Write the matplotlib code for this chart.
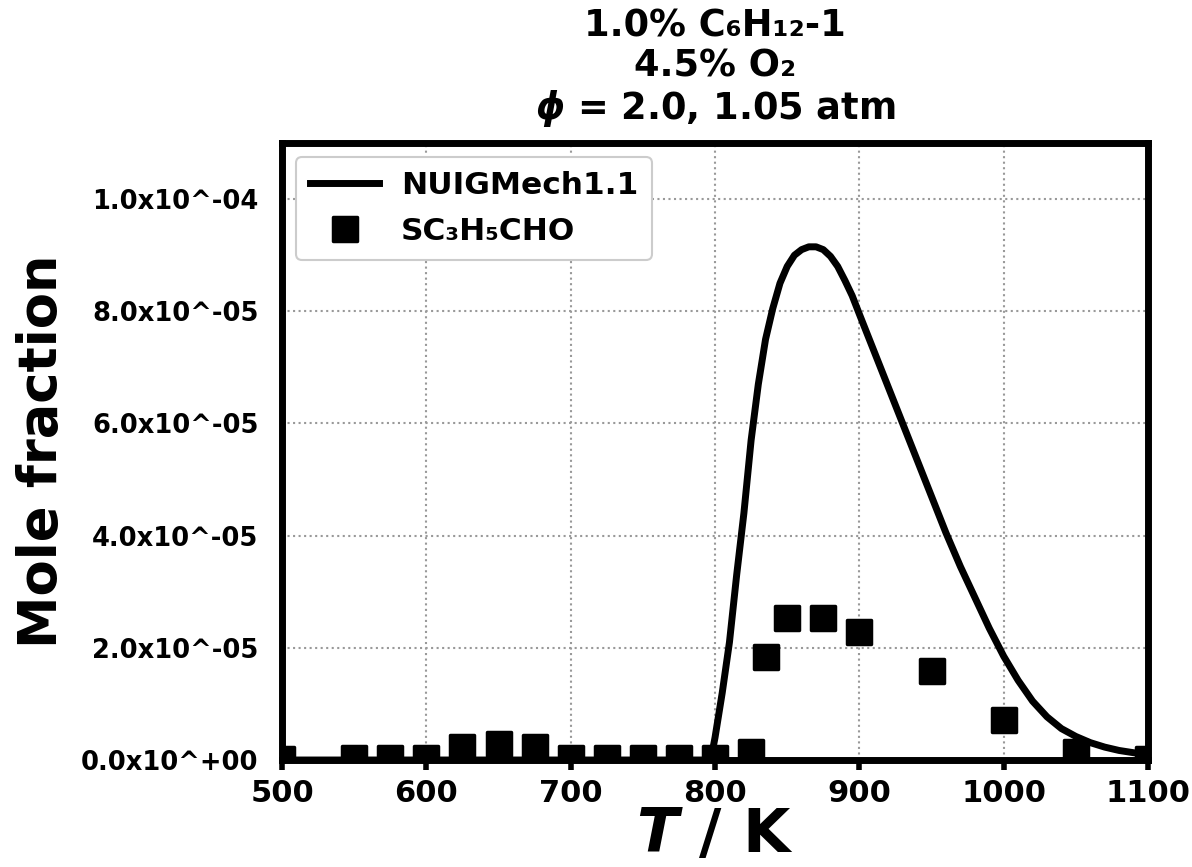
import matplotlib
matplotlib.use("Agg")
import matplotlib.pyplot as plt
from matplotlib.markers import MarkerStyle
from matplotlib.ticker import FuncFormatter, MultipleLocator
import numpy as np

plt.rcParams['font.family'] = ['DejaVu Sans']
plt.rcParams['font.weight'] = 'bold'
plt.rcParams['mathtext.fontset'] = 'custom'
plt.rcParams['mathtext.it'] = 'DejaVu Sans:bold:italic'
plt.rcParams['mathtext.rm'] = 'DejaVu Sans:bold'

# Experimental data (SC3H5CHO)
exp_T = [500, 550, 575, 600, 625, 650, 675, 700, 725, 750, 775, 800, 825,
         835, 850, 875, 900, 950, 1000, 1050, 1100]
exp_X = [2e-7, 3e-7, 3e-7, 3e-7, 2.3e-6, 2.9e-6, 2.3e-6, 3e-7, 3e-7, 3e-7,
         4e-7, 3e-7, 1.4e-6, 1.84e-5, 2.53e-5, 2.53e-5, 2.28e-5, 1.58e-5,
         7.1e-6, 1.4e-6, 2e-7]

# Model (NUIGMech1.1)
sim_T = [500, 600, 700, 790, 797, 800, 805, 810, 815, 820, 825, 830, 835,
         840, 845, 850, 855, 860, 865, 870, 875, 880, 885, 890, 895, 900,
         910, 920, 930, 940, 950, 960, 970, 980, 990, 1000, 1010, 1020,
         1030, 1040, 1050, 1060, 1070, 1080, 1090, 1100]
sim_X = [0, 0, 0, 0, 0, 0.4e-5, 1.2e-5, 2.1e-5, 3.3e-5, 4.4e-5, 5.7e-5,
         6.7e-5, 7.5e-5, 8.05e-5, 8.5e-5, 8.8e-5, 9.0e-5, 9.1e-5, 9.15e-5,
         9.15e-5, 9.1e-5, 8.98e-5, 8.8e-5, 8.55e-5, 8.28e-5, 7.95e-5,
         7.3e-5, 6.65e-5, 6.0e-5, 5.35e-5, 4.7e-5, 4.05e-5, 3.45e-5,
         2.9e-5, 2.35e-5, 1.85e-5, 1.42e-5, 1.05e-5, 7.7e-6, 5.6e-6,
         4.2e-6, 3.1e-6, 2.3e-6, 1.7e-6, 1.3e-6, 1.0e-6]

title_lines = ["1.0% C\u2086H\u2081\u2082-1", "4.5% O\u2082", r"$\phi$ = 2.0, 1.05 atm"]

fig = plt.figure(figsize=(11.92, 8.67), dpi=100)
ax = fig.add_axes([0.2366, 0.1234, 0.7265, 0.7116])

ax.plot(sim_T, sim_X, color='black', lw=5, label='NUIGMech1.1', zorder=3)
ax.plot(exp_T, exp_X, linestyle='none',
        marker=MarkerStyle('s', joinstyle='round'), ms=17, mew=2.5,
        mfc='black', mec='black', label='SC\u2083H\u2085CHO', zorder=4)

ax.set_xlim(500, 1100)
ax.set_ylim(0, 1.1e-4)
ax.xaxis.set_major_locator(MultipleLocator(100))
ax.yaxis.set_major_locator(MultipleLocator(2e-5))


def fmt(v, pos):
    if abs(v) < 1e-12:
        return "0.0x10^+00"
    e = int(np.floor(np.log10(abs(v))))
    m = v / 10 ** e
    return f"{m:.1f}x10^{e:+03d}"


ax.yaxis.set_major_formatter(FuncFormatter(fmt))
ax.grid(True, linestyle=':', color='#999999', lw=1.5)
ax.set_axisbelow(True)

for s in ax.spines.values():
    s.set_linewidth(5)
ax.tick_params(axis='x', direction='out', length=7, width=4, labelsize=22, pad=7)
ax.tick_params(axis='y', direction='out', length=0, width=4, labelsize=18.5, pad=17)
for lab in ax.get_xticklabels() + ax.get_yticklabels():
    lab.set_fontweight('bold')

ax.set_xlabel(r"$T$ / K", fontsize=44, fontweight='bold', labelpad=-2)
ax.set_ylabel("Mole fraction", fontsize=38, fontweight='bold', labelpad=9)
ax.set_title("\n".join(title_lines), fontsize=26.5, fontweight='bold',
             linespacing=1.12, pad=17)

leg = ax.legend(loc='upper left', prop={'weight': 'bold', 'size': 22.5},
                handlelength=2.2, borderpad=0.45, labelspacing=0.55, handletextpad=0.7,
                borderaxespad=0.45, fancybox=True, framealpha=1)
leg.get_frame().set_edgecolor('#cccccc')
leg.get_frame().set_linewidth(1.5)

fig.savefig("out.png", dpi=100)
